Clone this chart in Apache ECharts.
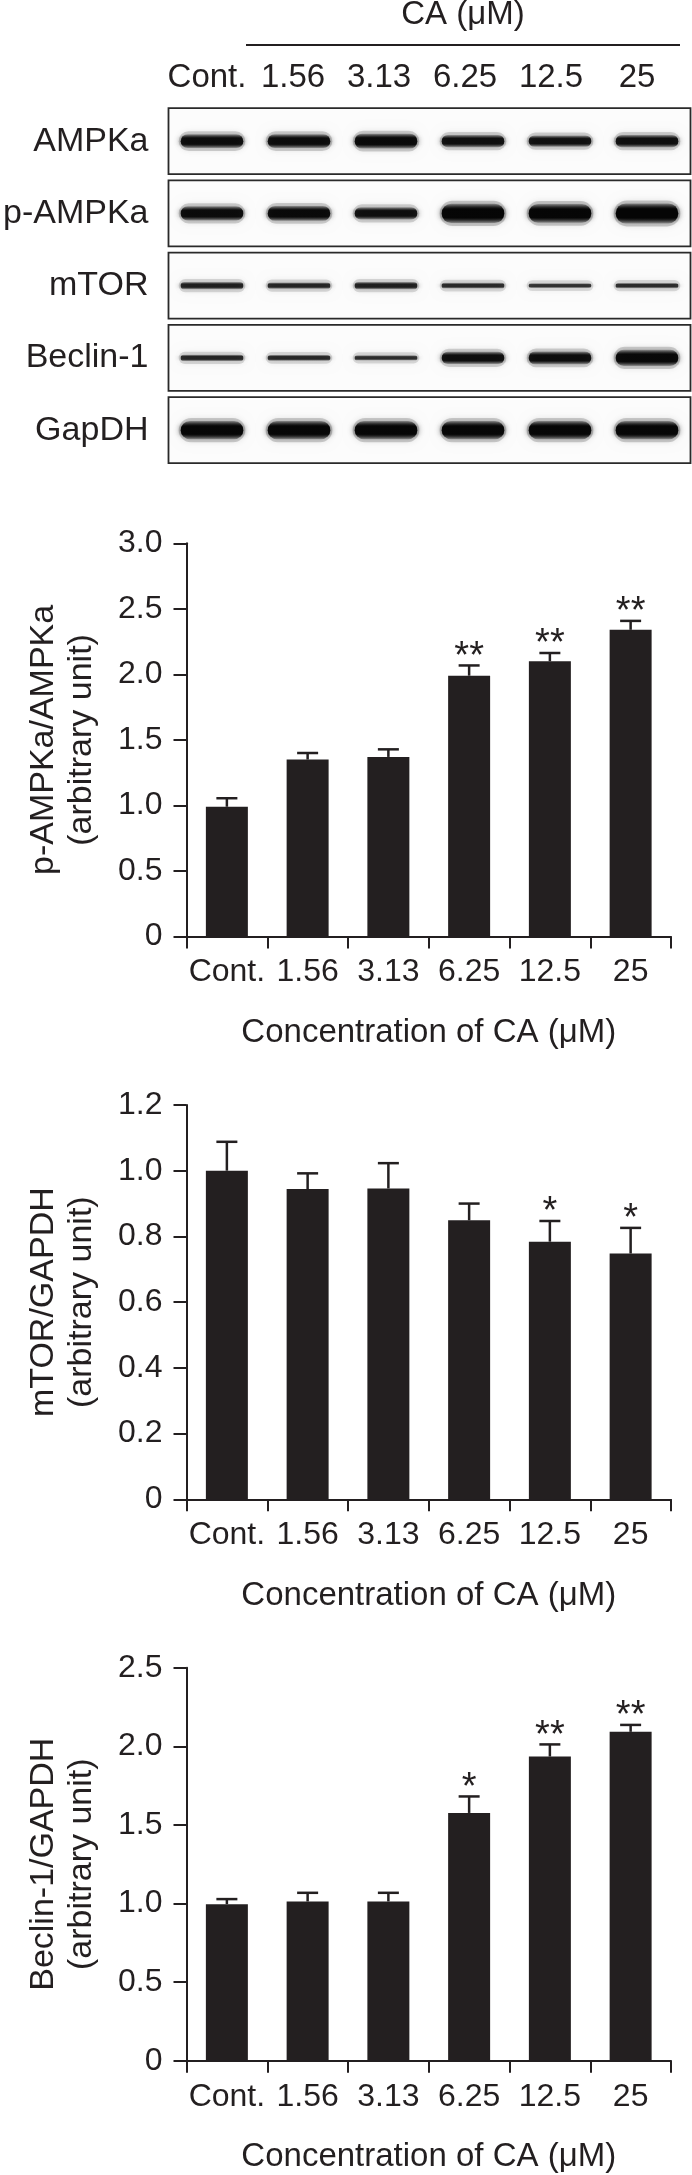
<!DOCTYPE html>
<html><head><meta charset="utf-8">
<script src="https://cdn.jsdelivr.net/npm/echarts@6/dist/echarts.min.js"></script>
<style>html,body{margin:0;padding:0;background:#fff}#c{width:692px;height:2175px}</style>
</head><body><div id="c"></div>
<script>
// ---------- data ----------
const categories = ['Cont.', '1.56', '3.13', '6.25', '12.5', '25'];
const blotProteins = ['AMPKa', 'p-AMPKa', 'mTOR', 'Beclin-1', 'GapDH'];
// relative band intensity per lane (0..1)
const bandAMPKa   = [0.80, 0.80, 0.84, 0.74, 0.70, 0.74];
const bandPAMPKa  = [0.82, 0.84, 0.74, 0.98, 0.96, 1.00];
const bandMTOR    = [0.50, 0.45, 0.50, 0.40, 0.32, 0.36];
const bandBeclin  = [0.45, 0.42, 0.36, 0.74, 0.76, 0.88];
const bandGapDH   = [0.95, 0.95, 0.95, 0.95, 0.95, 0.95];
const treatedSpan = ['1.56', '25'];

const ampkMean = [0.99, 1.35, 1.37, 1.99, 2.10, 2.34];
const ampkErr  = [0.065, 0.05, 0.058, 0.078, 0.063, 0.068];
const ampkSig  = ['', '', '', '**', '**', '**'];

const mtorMean = [1.00, 0.944, 0.946, 0.849, 0.784, 0.748];
const mtorErr  = [0.088, 0.048, 0.077, 0.051, 0.063, 0.078];
const mtorSig  = ['', '', '', '', '*', '*'];

const beclinMean = [0.996, 1.013, 1.013, 1.576, 1.935, 2.092];
const beclinErr  = [0.032, 0.055, 0.055, 0.105, 0.077, 0.044];
const beclinSig  = ['', '', '', '*', '**', '**'];

const ampkAxis   = {min: 0, max: 3.0, interval: 0.5};
const mtorAxis   = {min: 0, max: 1.2, interval: 0.2};
const beclinAxis = {min: 0, max: 2.5, interval: 0.5};

const xTitle = 'Concentration of CA (\u03bcM)';
const headerTitle = 'CA (\u03bcM)';

// ---------- styling ----------
const INK = '#231f20';
const FONT = '"Liberation Sans", Arial, Helvetica, sans-serif';

const chart = echarts.init(document.getElementById('c'), null, {renderer: 'canvas'});

const bandRows = [bandAMPKa, bandPAMPKa, bandMTOR, bandBeclin, bandGapDH];
const bandData = [];
bandRows.forEach((row, r) => row.forEach((v, l) => bandData.push([l, r, v])));

function tickFmt(v) { return v === 0 ? '0' : v.toFixed(1); }

function barGrid(top, bottom) {
  return {left: 186.5, right: 21, top: top, bottom: bottom, containLabel: false};
}

function xBar(gi) {
  return {
    type: 'category', gridIndex: gi, data: categories,
    axisLine: {lineStyle: {color: INK, width: 2}},
    axisTick: {show: true, length: 12, lineStyle: {color: INK, width: 2}},
    axisLabel: {color: INK, fontSize: 32, fontFamily: FONT, margin: 36, verticalAlign: 'middle', interval: 0},
    name: xTitle, nameLocation: 'middle', nameGap: 80,
    nameTextStyle: {color: INK, fontSize: 33, fontFamily: FONT}
  };
}

function yBar(gi, ax, name) {
  return {
    type: 'value', gridIndex: gi, min: ax.min, max: ax.max, interval: ax.interval,
    splitLine: {show: false},
    axisLine: {show: true, lineStyle: {color: INK, width: 2}},
    axisTick: {show: true, length: 13, lineStyle: {color: INK, width: 2}},
    axisLabel: {color: INK, fontSize: 32, fontFamily: FONT, margin: 24, formatter: tickFmt},
    name: name, nameLocation: 'middle', nameGap: 86, nameRotate: 90,
    nameTextStyle: {color: INK, fontSize: 34, fontFamily: FONT, lineHeight: 38, align: 'center'}
  };
}

function barSeries(gi, mean) {
  return {
    type: 'bar', xAxisIndex: gi, yAxisIndex: gi, data: mean, barWidth: '52%',
    itemStyle: {color: INK}, silent: true, z: 2
  };
}

function errSeries(gi, mean, err, sig) {
  return {
    type: 'custom', xAxisIndex: gi, yAxisIndex: gi, silent: true, z: 3,
    data: mean.map((m, i) => [i, m, err[i]]),
    renderItem: function (params, api) {
      const i = api.value(0), m = api.value(1), e = api.value(2);
      const base = api.coord([i, m]);
      const top = api.coord([i, m + e]);
      const half = 10.5;
      const kids = [
        {type: 'line', shape: {x1: base[0], y1: base[1], x2: top[0], y2: top[1]},
         style: {stroke: INK, lineWidth: 2.5}},
        {type: 'line', shape: {x1: top[0] - half, y1: top[1], x2: top[0] + half, y2: top[1]},
         style: {stroke: INK, lineWidth: 2.5}}
      ];
      const s = sig[params.dataIndex];
      if (s) {
        kids.push({type: 'text', x: top[0], y: top[1] - 8,
          style: {text: s, fill: INK, font: '38px ' + FONT, align: 'center', verticalAlign: 'middle'}});
      }
      return {type: 'group', children: kids};
    }
  };
}

const option = {
  animation: false,
  backgroundColor: '#fff',
  grid: [
    {left: 166, right: 1.5, top: 105, height: 361.25},          // 0 blot
    {left: 164, width: 516, top: 78, height: 10},              // 1 header labels
    barGrid(543.3, 1238.5),                                     // 2
    barGrid(1105, 675.7),                                       // 3
    barGrid(1667.7, 114.3)                                      // 4
  ],
  xAxis: [
    {type: 'category', gridIndex: 0, data: categories, show: false},
    {type: 'category', gridIndex: 1, data: categories, position: 'top',
     axisLine: {show: false}, axisTick: {show: false},
     axisLabel: {color: INK, fontSize: 33, fontFamily: FONT, margin: 0, verticalAlign: 'middle', interval: 0}},
    xBar(2), xBar(3), xBar(4)
  ],
  yAxis: [
    {type: 'category', gridIndex: 0, data: blotProteins, inverse: true,
     axisLine: {show: false}, axisTick: {show: false},
     axisLabel: {color: INK, fontSize: 34, fontFamily: FONT, margin: 20}},
    {type: 'value', gridIndex: 1, min: 0, max: 1, show: false},
    yBar(2, ampkAxis, 'p-AMPKa/AMPKa\n(arbitrary unit)'),
    yBar(3, mtorAxis, 'mTOR/GAPDH\n(arbitrary unit)'),
    yBar(4, beclinAxis, 'Beclin-1/GAPDH\n(arbitrary unit)')
  ],
  series: [
    // blot frames
    {
      type: 'custom', xAxisIndex: 0, yAxisIndex: 0, silent: true, z: 1,
      data: blotProteins.map((p, r) => [0, r]),
      renderItem: function (params, api) {
        const c = api.coord([0, api.value(1)]);
        const rowH = api.size([1, 1])[1];
        const cs = params.coordSys;
        const h = rowH - 6.25;
        return {type: 'rect', shape: {x: cs.x, y: c[1] - h / 2, width: cs.width, height: h},
          style: {fill: '#fcfcfc', stroke: '#2a2a2a', lineWidth: 1.8}};
      }
    },
    // blot bands
    {
      type: 'custom', xAxisIndex: 0, yAxisIndex: 0, silent: true, z: 2,
      data: bandData,
      renderItem: function (params, api) {
        const c = api.coord([api.value(0), api.value(1)]);
        const sz = api.size([1, 1]);
        const v = api.value(2);
        const w = sz[0] * 0.72;
        const t = 3 + v * v * 17;
        const a = 0.62 + 0.38 * v;
        const col = 'rgba(5,5,5,' + a.toFixed(2) + ')';
        const faint = 'rgba(5,5,5,' + (a * 0.25).toFixed(2) + ')';
        return {type: 'group', children: [
          // soft halo
          {type: 'rect', shape: {x: c[0] - w / 2 - 2, y: c[1] - t / 2 - 3, width: w + 4, height: t + 6, r: (t + 6) / 2},
           style: {fill: 'rgba(0,0,0,' + (0.08 + 0.1 * v).toFixed(2) + ')', shadowBlur: 10, shadowColor: 'rgba(0,0,0,0.25)'}},
          // core band
          {type: 'rect', shape: {x: c[0] - w / 2, y: c[1] - t / 2, width: w, height: t, r: t / 2},
           style: {
             fill: new echarts.graphic.LinearGradient(0, 0, 0, 1, [
               {offset: 0, color: faint},
               {offset: 0.28, color: col},
               {offset: 0.72, color: col},
               {offset: 1, color: faint}
             ]),
             shadowBlur: 6, shadowColor: 'rgba(0,0,0,' + (a * 0.7).toFixed(2) + ')'
           }}
        ]};
      }
    },
    // header bracket
    {
      type: 'custom', xAxisIndex: 1, yAxisIndex: 1, silent: true,
      data: [[categories.indexOf(treatedSpan[0]), categories.indexOf(treatedSpan[1])]],
      renderItem: function (params, api) {
        const a = api.coord([api.value(0), 0]);
        const b = api.coord([api.value(1), 0]);
        const lw = api.size([1, 0])[0];
        const x1 = a[0] - lw / 2 - 4, x2 = b[0] + lw / 2;
        const y0 = params.coordSys.y;
        return {type: 'group', children: [
          {type: 'line', shape: {x1: x1, y1: y0 - 33, x2: x2, y2: y0 - 33}, style: {stroke: INK, lineWidth: 2}},
          {type: 'text', x: (x1 + x2) / 2, y: y0 - 63,
           style: {text: headerTitle, fill: INK, font: '33px ' + FONT, align: 'center', verticalAlign: 'middle'}}
        ]};
      }
    },
    barSeries(2, ampkMean), errSeries(2, ampkMean, ampkErr, ampkSig),
    barSeries(3, mtorMean), errSeries(3, mtorMean, mtorErr, mtorSig),
    barSeries(4, beclinMean), errSeries(4, beclinMean, beclinErr, beclinSig)
  ]
};
chart.setOption(option);
</script>
</body></html>
